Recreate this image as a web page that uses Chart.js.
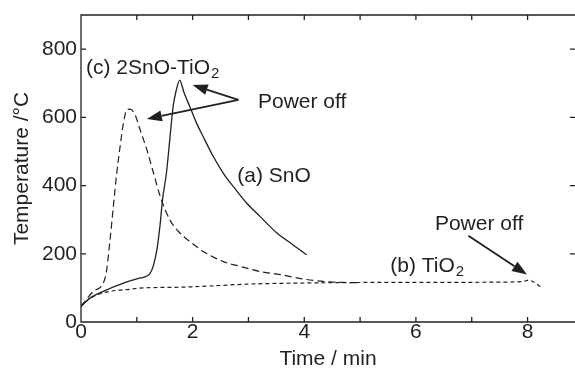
<!DOCTYPE html>
<html>
<head>
<meta charset="utf-8">
<script src="https://cdn.jsdelivr.net/npm/chart.js@4/dist/chart.umd.min.js"></script>
<style>
  body { margin: 0; background: #fff; }
  #wrap { width: 575px; height: 368px; }
</style>
</head>
<body>
<div id="wrap"><canvas id="myChart" width="575" height="368"></canvas></div>
<script>
// (a) SnO - solid
const timeA = [0, 0.16, 0.4, 0.76, 1.06, 1.24, 1.36, 1.42, 1.46, 1.53, 1.59, 1.65, 1.7, 1.77, 1.84, 1.95, 2.07, 2.19, 2.37, 2.55, 2.73, 2.97, 3.21, 3.51, 3.8, 4.04]
const tempA = [46, 70, 90, 114, 129, 143, 212, 290, 358, 436, 534, 631, 675, 709, 675, 631, 583, 543, 485, 436, 397, 348, 309, 261, 226, 197]

// (b) TiO2 - short dashes
const timeB = [0, 0.1, 0.22, 0.52, 0.82, 1.12, 1.77, 2.37, 2.97, 3.87, 5.36, 6.5, 7.5, 7.93, 8.02, 8.1, 8.26]
const tempB = [46, 62, 75, 90, 95, 100, 102, 106, 111, 114, 116, 116, 117, 119, 123, 118, 100]

// (c) 2SnO-TiO2 - long dashes
const timeC = [0, 0.22, 0.4, 0.46, 0.52, 0.58, 0.64, 0.7, 0.76, 0.82, 0.88, 0.97, 1.06, 1.18, 1.3, 1.42, 1.59, 1.77, 1.95, 2.19, 2.55, 2.85, 3.21, 3.57, 3.98, 4.34, 4.7, 5.0]
const tempC = [46, 90, 114, 153, 241, 339, 436, 514, 583, 622, 624, 607, 563, 505, 436, 368, 300, 261, 236, 207, 177, 163, 148, 139, 126, 119, 116, 115]

const ink = '#231f20'

// text notes: [text, subscript, x, y]
const notes = [
    ['(c) 2SnO-TiO', '2', 0.09, 745],
    ['Power off', '', 3.17, 645],
    ['(a) SnO', '', 2.80, 428],
    ['(b) TiO', '2', 5.54, 165],
    ['Power off', '', 6.34, 288]
]
// arrows: [fromX, fromY, toX, toY]
const arrows = [
    [2.82, 651, 2.0, 695],
    [2.82, 651, 1.18, 595],
    [6.94, 253, 7.99, 139]
]

function pts(xs, ys) {
    return xs.map((v, i) => ({ x: v, y: ys[i] }))
}

const fontName = '"Liberation Sans", Arial, sans-serif'
Chart.defaults.font.family = fontName
Chart.defaults.font.size = 21
Chart.defaults.color = ink

function drawArrow(ctx, x1, y1, x2, y2) {
    const ang = Math.atan2(y2 - y1, x2 - x1)
    const len = 15, half = 5.5
    const bx = x2 - len * Math.cos(ang), by = y2 - len * Math.sin(ang)
    ctx.beginPath()
    ctx.moveTo(x1, y1)
    ctx.lineTo(bx, by)
    ctx.stroke()
    ctx.beginPath()
    ctx.moveTo(x2, y2)
    ctx.lineTo(bx + half * Math.sin(ang), by - half * Math.cos(ang))
    ctx.lineTo(bx - half * Math.sin(ang), by + half * Math.cos(ang))
    ctx.closePath()
    ctx.fill()
}

const framePlugin = {
    id: 'framePlugin',
    afterDraw(chart) {
        const { ctx, chartArea: a, scales: { x, y } } = chart
        ctx.save()
        ctx.strokeStyle = ink
        ctx.fillStyle = ink
        ctx.lineWidth = 1.3
        // frame: left, bottom, top (right edge falls off the picture)
        ctx.beginPath()
        ctx.moveTo(a.right, a.top)
        ctx.lineTo(a.left, a.top)
        ctx.lineTo(a.left, a.bottom)
        ctx.lineTo(a.right, a.bottom)
        ctx.stroke()
        ctx.beginPath()
        for (let t = 1; t <= 8; t++) {
            const px = x.getPixelForValue(t)
            ctx.moveTo(px, a.bottom); ctx.lineTo(px, a.bottom - 5)
            ctx.moveTo(px, a.top); ctx.lineTo(px, a.top + 5)
        }
        for (let v = 200; v <= 800; v += 200) {
            const py = y.getPixelForValue(v)
            ctx.moveTo(a.left, py); ctx.lineTo(a.left + 5, py)
            ctx.moveTo(a.right, py); ctx.lineTo(a.right - 5, py)
        }
        ctx.stroke()

        ctx.textBaseline = 'middle'
        ctx.textAlign = 'left'
        notes.forEach(n => {
            const px = x.getPixelForValue(n[2])
            const py = y.getPixelForValue(n[3])
            ctx.font = '21px ' + fontName
            ctx.fillText(n[0], px, py)
            if (n[1]) {
                const w = ctx.measureText(n[0]).width
                ctx.font = '15px ' + fontName
                ctx.fillText(n[1], px + w + 1, py + 6)
            }
        })

        ctx.lineWidth = 1.8
        arrows.forEach(r => {
            drawArrow(ctx, x.getPixelForValue(r[0]), y.getPixelForValue(r[1]),
                x.getPixelForValue(r[2]), y.getPixelForValue(r[3]))
        })
        ctx.restore()
    }
}

const ctx = document.getElementById('myChart').getContext('2d')
const myChart = new Chart(ctx, {
    type: 'line',
    data: {
        datasets: [{
            label: '(a) SnO',
            data: pts(timeA, tempA),
            borderColor: ink,
            borderWidth: 1.3
        }, {
            label: '(b) TiO2',
            data: pts(timeB, tempB),
            borderColor: ink,
            borderWidth: 1.2,
            borderDash: [4, 3]
        }, {
            label: '(c) 2SnO-TiO2',
            data: pts(timeC, tempC),
            borderColor: ink,
            borderWidth: 1.2,
            borderDash: [7, 4]
        }]
    },
    options: {
        responsive: false,
        animation: false,
        events: [],
        layout: { padding: { top: 15, right: 0, left: 0, bottom: 0 } },
        elements: {
            point: { radius: 0 },
            line: { cubicInterpolationMode: 'monotone' }
        },
        plugins: {
            legend: { display: false },
            tooltip: { enabled: false }
        },
        scales: {
            x: {
                type: 'linear',
                min: 0,
                max: 8.85,
                grid: { display: false, drawTicks: false },
                border: { display: false },
                ticks: {
                    stepSize: 2,
                    includeBounds: false,
                    padding: 0,
                    maxRotation: 0,
                    font: { size: 21, lineHeight: 1 },
                    color: ink
                },
                title: {
                    display: true,
                    text: 'Time / min',
                    font: { size: 21, lineHeight: 0.8 },
                    padding: 0,
                    color: ink
                },
                afterFit(scale) {
                    scale.height = 46
                    scale.paddingLeft = 0
                    scale.paddingRight = 0
                }
            },
            y: {
                min: 0,
                max: 900,
                grid: { display: false, drawTicks: false },
                border: { display: false },
                ticks: {
                    stepSize: 200,
                    includeBounds: false,
                    padding: 4,
                    font: { size: 21, lineHeight: 1 },
                    color: ink
                },
                title: {
                    display: true,
                    text: 'Temperature /°C',
                    font: { size: 21, lineHeight: 1.2 },
                    padding: { top: 10, bottom: 0 },
                    color: ink
                },
                afterFit(scale) {
                    scale.width = 81
                    scale.paddingTop = 0
                    scale.paddingBottom = 0
                }
            }
        }
    },
    plugins: [framePlugin]
})
</script>
</body>
</html>
